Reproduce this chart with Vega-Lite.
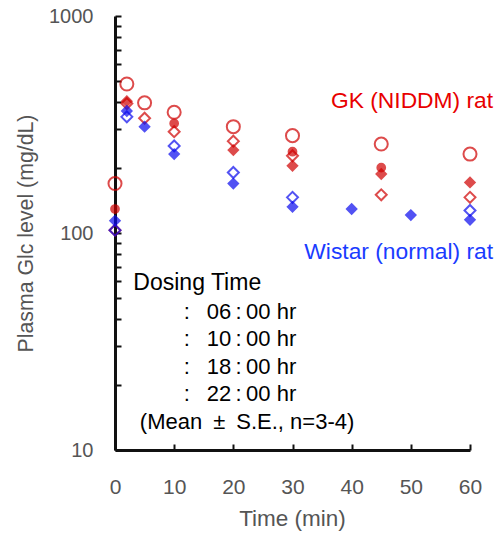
{
  "$schema": "https://vega.github.io/schema/vega-lite/v6.json",
  "autosize": "none",
  "width": 355,
  "height": 434,
  "padding": {"left": 115, "top": 16, "right": 29, "bottom": 83},
  "background": "white",
  "config": {
    "view": {"stroke": null},
    "font": "Liberation Sans"
  },
  "datasets": {
    "glc": [
      {"group": "GK", "dose": "06:00", "time": 0, "glc": 169},
      {"group": "GK", "dose": "06:00", "time": 2, "glc": 486},
      {"group": "GK", "dose": "06:00", "time": 5, "glc": 398},
      {"group": "GK", "dose": "06:00", "time": 10, "glc": 360},
      {"group": "GK", "dose": "06:00", "time": 20, "glc": 309},
      {"group": "GK", "dose": "06:00", "time": 30, "glc": 281},
      {"group": "GK", "dose": "06:00", "time": 45, "glc": 257},
      {"group": "GK", "dose": "06:00", "time": 60, "glc": 231},
      {"group": "GK", "dose": "10:00", "time": 0, "glc": 129},
      {"group": "GK", "dose": "10:00", "time": 10, "glc": 320},
      {"group": "GK", "dose": "10:00", "time": 30, "glc": 237},
      {"group": "GK", "dose": "10:00", "time": 45, "glc": 200},
      {"group": "GK", "dose": "18:00", "time": 0, "glc": 103},
      {"group": "GK", "dose": "18:00", "time": 2, "glc": 395},
      {"group": "GK", "dose": "18:00", "time": 5, "glc": 338},
      {"group": "GK", "dose": "18:00", "time": 10, "glc": 293},
      {"group": "GK", "dose": "18:00", "time": 20, "glc": 265},
      {"group": "GK", "dose": "18:00", "time": 30, "glc": 227},
      {"group": "GK", "dose": "18:00", "time": 45, "glc": 150},
      {"group": "GK", "dose": "18:00", "time": 60, "glc": 146},
      {"group": "GK", "dose": "22:00", "time": 2, "glc": 405},
      {"group": "GK", "dose": "22:00", "time": 20, "glc": 241},
      {"group": "GK", "dose": "22:00", "time": 30, "glc": 204},
      {"group": "GK", "dose": "22:00", "time": 45, "glc": 187},
      {"group": "GK", "dose": "22:00", "time": 60, "glc": 171},
      {"group": "Wistar", "dose": "18:00", "time": 0, "glc": 103},
      {"group": "Wistar", "dose": "18:00", "time": 2, "glc": 343},
      {"group": "Wistar", "dose": "18:00", "time": 10, "glc": 252},
      {"group": "Wistar", "dose": "18:00", "time": 20, "glc": 190},
      {"group": "Wistar", "dose": "18:00", "time": 30, "glc": 146},
      {"group": "Wistar", "dose": "18:00", "time": 60, "glc": 127},
      {"group": "Wistar", "dose": "22:00", "time": 0, "glc": 114},
      {"group": "Wistar", "dose": "22:00", "time": 2, "glc": 365},
      {"group": "Wistar", "dose": "22:00", "time": 5, "glc": 309},
      {"group": "Wistar", "dose": "22:00", "time": 10, "glc": 231},
      {"group": "Wistar", "dose": "22:00", "time": 20, "glc": 169},
      {"group": "Wistar", "dose": "22:00", "time": 30, "glc": 132},
      {"group": "Wistar", "dose": "22:00", "time": 40, "glc": 129},
      {"group": "Wistar", "dose": "22:00", "time": 50, "glc": 121},
      {"group": "Wistar", "dose": "22:00", "time": 60, "glc": 115}
    ],
    "groupnotes": [
      {"text": "GK (NIDDM) rat", "kind": "GK", "time": 63.9, "glc": 406},
      {"text": "Wistar (normal) rat", "kind": "Wistar", "time": 63.9, "glc": 81.7}
    ],
    "legendnotes": [
      {"text": "Dosing Time", "size": "big", "time": 3.1, "glc": 58.8},
      {"text": ":", "size": "small", "time": 11.6, "glc": 43.4},
      {"text": ":", "size": "small", "time": 11.6, "glc": 32.4},
      {"text": ":", "size": "small", "time": 11.6, "glc": 24.2},
      {"text": ":", "size": "small", "time": 11.6, "glc": 18.1},
      {"text": "06\u2009:\u200900 hr", "size": "small", "time": 15.5, "glc": 43.4},
      {"text": "10\u2009:\u200900 hr", "size": "small", "time": 15.5, "glc": 32.4},
      {"text": "18\u2009:\u200900 hr", "size": "small", "time": 15.5, "glc": 24.2},
      {"text": "22\u2009:\u200900 hr", "size": "small", "time": 15.5, "glc": 18.1},
      {"text": "(Mean\u2002±\u2002S.E., n=3-4)", "size": "small", "time": 4.2, "glc": 13.5}
    ]
  },
  "layer": [
    {
      "data": {"name": "glc"},
      "mark": {"type": "point", "filled": true, "strokeWidth": 2, "clip": false},
      "encoding": {
        "x": {
          "field": "time", "type": "quantitative",
          "scale": {"domain": [0, 60], "nice": false, "zero": false},
          "axis": {
            "title": "Time (min)",
            "values": [0, 10, 20, 30, 40, 50, 60],
            "grid": false,
            "labelFlush": false,
            "domainColor": "#111", "domainWidth": 3,
            "tickColor": "#111", "tickWidth": 2, "tickSize": -6,
            "labelFontSize": 21, "labelColor": "#555", "labelPadding": 32,
            "labelFont": "Liberation Sans",
            "titleFontSize": 22.5, "titleColor": "#555", "titleFontWeight": "normal",
            "titleFont": "Liberation Sans",
            "titleX": 177, "titleY": 68, "titleBaseline": "middle"
          }
        },
        "y": {
          "field": "glc", "type": "quantitative",
          "scale": {"type": "log", "domain": [10, 1000], "nice": false},
          "axis": {
            "title": "Plasma Glc level (mg/dL)",
            "values": [10, 20, 30, 40, 50, 60, 70, 80, 90, 100, 200, 300, 400, 500, 600, 700, 800, 900, 1000],
            "labelExpr": "datum.value == 10 || datum.value == 100 || datum.value == 1000 ? format(datum.value, 'd') : ''",
            "grid": false,
            "labelFlush": false,
            "domainColor": "#111", "domainWidth": 3,
            "tickColor": "#111", "tickWidth": 2, "tickSize": -6,
            "labelFontSize": 20, "labelColor": "#555", "labelPadding": 28,
            "labelFont": "Liberation Sans",
            "titleFontSize": 21.3, "titleColor": "#555", "titleFontWeight": "normal",
            "titleFont": "Liberation Sans",
            "titleX": -89, "titleY": 217, "titleBaseline": "middle", "titleAlign": "center"
          }
        },
        "shape": {
          "field": "dose", "type": "nominal",
          "scale": {"domain": ["06:00", "10:00", "18:00", "22:00"], "range": ["circle", "circle", "diamond", "diamond"]},
          "legend": null
        },
        "size": {
          "condition": [
            {"test": "datum.dose == '06:00'", "value": 170},
            {"test": "datum.dose == '10:00'", "value": 60},
            {"test": "datum.dose == '18:00'", "value": 120}
          ],
          "value": 90
        },
        "fillOpacity": {
          "condition": {"test": "datum.dose == '06:00' || datum.dose == '18:00'", "value": 0},
          "value": 1
        },
        "color": {
          "field": "group", "type": "nominal",
          "scale": {"domain": ["GK", "Wistar"], "range": ["#d00000", "#0a0aee"]},
          "legend": null
        },
        "stroke": {
          "field": "group", "type": "nominal",
          "scale": {"domain": ["GK", "Wistar"], "range": ["#d00000", "#0a0aee"]},
          "legend": null
        }
      }
    },
    {
      "data": {"name": "groupnotes"},
      "mark": {"type": "text", "align": "right", "baseline": "middle", "fontSize": 22.8, "font": "Liberation Sans", "clip": false},
      "encoding": {
        "x": {"field": "time", "type": "quantitative"},
        "y": {"field": "glc", "type": "quantitative"},
        "text": {"field": "text"},
        "color": {
          "field": "kind", "type": "nominal",
          "scale": {"domain": ["GK", "Wistar"], "range": ["#e80000", "#1a3cff"]},
          "legend": null
        }
      }
    },
    {
      "data": {"name": "legendnotes"},
      "mark": {"type": "text", "align": "left", "baseline": "middle", "font": "Liberation Sans", "color": "#000", "clip": false},
      "encoding": {
        "x": {"field": "time", "type": "quantitative"},
        "y": {"field": "glc", "type": "quantitative"},
        "text": {"field": "text"},
        "size": {
          "field": "size", "type": "nominal",
          "scale": {"domain": ["big", "small"], "range": [23, 22]},
          "legend": null
        }
      }
    }
  ],
  "resolve": {"scale": {"color": "independent", "size": "independent"}}
}
